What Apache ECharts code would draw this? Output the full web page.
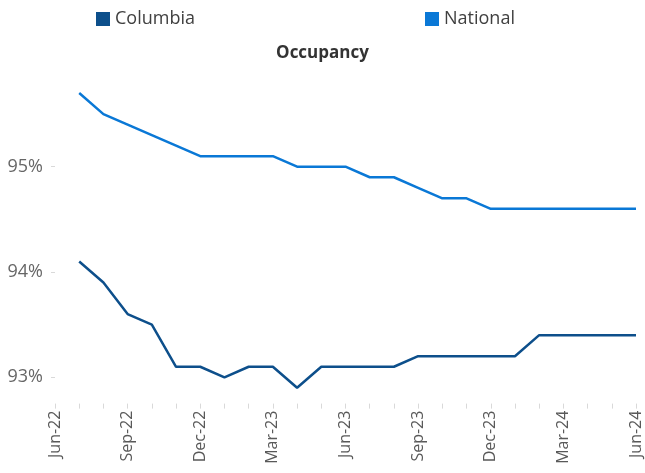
<!DOCTYPE html>
<html>
<head>
<meta charset="utf-8">
<script src="https://cdn.jsdelivr.net/npm/echarts@6/dist/echarts.min.js"></script>
<style>
  html, body { margin: 0; padding: 0; background: #fff; }
  #chart { width: 645px; height: 473px; }
</style>
</head>
<body>
<div id="chart"></div>
<script>
// months on the axis (first month has no data)
const months = ['Jun-22', 'Jul-22', 'Aug-22', 'Sep-22', 'Oct-22', 'Nov-22', 'Dec-22',
  'Jan-23', 'Feb-23', 'Mar-23', 'Apr-23', 'May-23', 'Jun-23', 'Jul-23', 'Aug-23',
  'Sep-23', 'Oct-23', 'Nov-23', 'Dec-23', 'Jan-24', 'Feb-24', 'Mar-24', 'Apr-24',
  'May-24', 'Jun-24']
const columbia = [null, 94.1, 93.9, 93.6, 93.5, 93.1, 93.1, 93.0, 93.1, 93.1, 92.9, 93.1, 93.1,
  93.1, 93.1, 93.2, 93.2, 93.2, 93.2, 93.2, 93.4, 93.4, 93.4, 93.4, 93.4]
const national = [null, 95.7, 95.5, 95.4, 95.3, 95.2, 95.1, 95.1, 95.1, 95.1, 95.0, 95.0, 95.0,
  94.9, 94.9, 94.8, 94.7, 94.7, 94.6, 94.6, 94.6, 94.6, 94.6, 94.6, 94.6]
const yTicks = [93, 94, 95]

const colorArr = ['#0d4f8b', '#0a78d6']
const font = '"Open Sans", sans-serif'

const chart = echarts.init(document.getElementById('chart'))

function lineSeries (name, data, color) {
  return {
    name: name,
    type: 'line',
    data: data,
    symbol: 'none',
    smooth: false,
    lineStyle: { color: color, width: 2.5 },
    itemStyle: { color: color },
    animation: false
  }
}

chart.setOption({
  title: {
    text: 'Occupancy',
    left: 'center',
    top: 40,
    textStyle: { fontFamily: font, fontSize: 17, fontWeight: 'bold', color: '#333' }
  },
  legend: [
    {
      data: ['Columbia'], left: 91, top: 5, itemWidth: 14, itemHeight: 14, icon: 'rect', itemGap: 6,
      textStyle: { fontFamily: font, fontSize: 18, color: '#404040' }
    },
    {
      data: ['National'], left: 420, top: 5, itemWidth: 14, itemHeight: 14, icon: 'rect',
      textStyle: { fontFamily: font, fontSize: 18, color: '#404040' }
    }
  ],
  grid: { left: 55, right: 9, top: 82.5, bottom: 69.4 },
  xAxis: {
    type: 'category',
    data: months,
    boundaryGap: false,
    axisLine: { show: false },
    axisTick: { show: true, interval: 0, length: 5, lineStyle: { color: '#d9d9d9' } },
    axisLabel: {
      interval: 2, rotate: 90, margin: 7,
      fontFamily: font, fontSize: 16, color: '#595959'
    }
  },
  yAxis: {
    type: 'value',
    min: 92.75,
    max: 95.8,
    splitLine: { show: false },
    axisLine: { show: false },
    axisTick: { show: true, length: 4, customValues: yTicks, lineStyle: { color: '#d9d9d9' } },
    axisLabel: {
      customValues: yTicks, margin: 12,
      fontFamily: font, fontSize: 18, color: '#666'
    ,
      formatter: v => Math.round(v) + '%'
    }
  },
  series: [
    lineSeries('Columbia', columbia, colorArr[0]),
    lineSeries('National', national, colorArr[1])
  ]
})
</script>
</body>
</html>
